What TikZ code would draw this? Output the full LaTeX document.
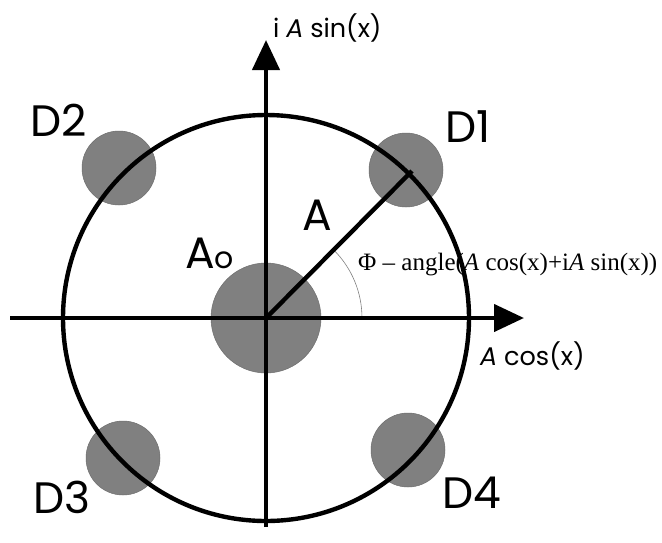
\documentclass[tikz,border=0pt]{standalone}
\usepackage{fontspec}
\setmainfont{Poppins}
\newfontfamily\serifphi{Liberation Serif}
\usetikzlibrary{arrows.meta}
\definecolor{dotgray}{RGB}{128,128,128}
\begin{document}
\begin{tikzpicture}[x=1pt,y=-1pt,
  spot/.style={circle,fill=dotgray,draw=dotgray!85!black,line width=0.5pt,inner sep=0},
  small spot/.style={spot,minimum size=74pt},
  big spot/.style={spot,minimum size=110pt},
  heavy/.style={line width=4.4pt},
  axis/.style={line width=4.3pt,-{Triangle[length=30pt,width=27pt]}},
  lbl/.style={inner sep=0,anchor=base west},
  dlbl/.style={lbl,font=\fontsize{44}{44}\selectfont},
  axlbl/.style={lbl,font=\fontsize{25.5}{25.5}\selectfont},
  philbl/.style={lbl,font=\serifphi\fontsize{25}{25}\selectfont}]
\fill[white] (0,0) rectangle (662,542);
\useasboundingbox (0,0) rectangle (662,542);
\coordinate (O) at (266,318);
% grey spots
\node[big spot] (A0) at (O) {};
\node[small spot] (S1) at (406,170) {};
\node[small spot] (S2) at (119,168) {};
\node[small spot] (S3) at (123,458) {};
\node[small spot] (S4) at (408,450) {};
% circle
\draw[heavy] (O) circle[radius=203];
% angle arc
\draw[gray,line width=0.6pt] (O) ++(96,0) arc[start angle=0,end angle=-45,radius=96];
% axes
\coordinate (xl) at (10,318);
\coordinate (xr) at (524,318);
\coordinate (yb) at (266,527);
\coordinate (yt) at (266,40);
\draw[axis] (xl) -- (xr);
\draw[axis] (yb) -- (yt);
% radius
\coordinate (P) at (412,171);
\draw[heavy] (O) -- (P);
% labels
\node[axlbl] (ylab) at (273,37) {i \textit{A} sin(x)};
\node[axlbl] (xlab) at (480,365) {\textit{A} cos(x)};
\node[dlbl] (d1) at (445,142) {D1};
\node[dlbl] (d2) at (30,136) {D2};
\node[dlbl] (d3) at (33,513) {D3};
\node[dlbl] (d4) at (442,508) {D4};
\node[dlbl] (alab) at (302,230) {A};
\node[dlbl] (a0lab) at (185,268) {A{\fontsize{30}{30}\selectfont o}};
\node[philbl] (phi) at (358,270) {Φ – angle(\textit{A} cos(x)+i\textit{A} sin(x))};
\end{tikzpicture}
\end{document}
